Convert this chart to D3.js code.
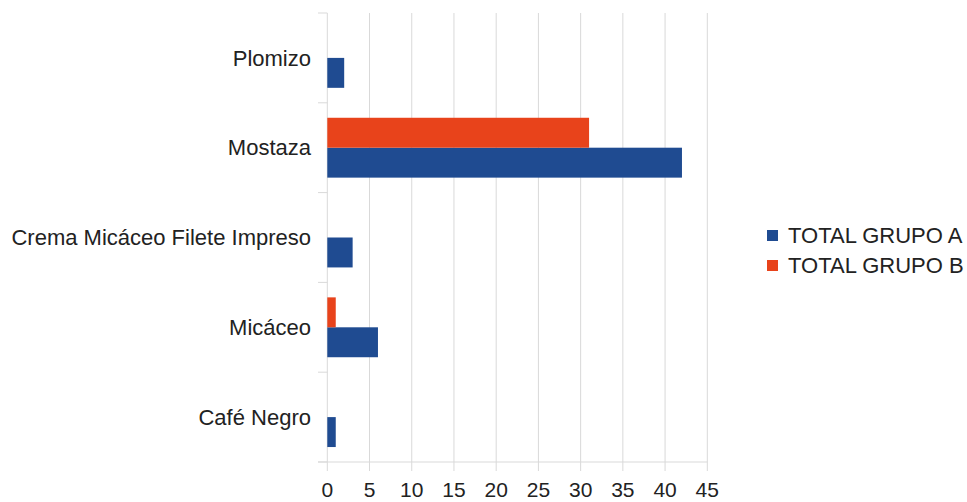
<!DOCTYPE html>
<html><head><meta charset="utf-8">
<script src="https://cdn.jsdelivr.net/npm/d3@7"></script>
<style>body{margin:0;background:#fff}text{font-family:"Liberation Sans",Arial,sans-serif;fill:#222}</style>
</head><body>
<svg id="c" width="967" height="502"></svg>
<script>
const categories = ["Plomizo","Mostaza","Crema Micáceo Filete Impreso","Micáceo","Café Negro"];
const seriesNames = ["TOTAL GRUPO A","TOTAL GRUPO B"];
const grupoA = [2,42,3,6,1];
const grupoB = [0,31,0,1,0];
const xTicks = [0,5,10,15,20,25,30,35,40,45];
const colors = ["#1f4b91","#e8431b"];

const svg = d3.select("#c");
const L = 327.3, R = 707.3, T = 13, B = 462;
const x = d3.scaleLinear().domain([0,45]).range([L,R]);
const y = d3.scaleBand().domain(categories).range([T,B]);
const sub = d3.scaleBand().domain(["B","A"]).range([0,y.bandwidth()]).paddingOuter(0.5).paddingInner(0);

// gridlines
svg.append("g").selectAll("line").data(xTicks).join("line")
  .attr("x1",d=>x(d)).attr("x2",d=>x(d)).attr("y1",T).attr("y2",B+9)
  .attr("stroke","#d9d9d9").attr("stroke-width",1);
// bottom axis line
svg.append("line").attr("x1",318).attr("x2",R).attr("y1",B).attr("y2",B).attr("stroke","#d9d9d9");
// category ticks
const bounds = d3.range(categories.length+1).map(i=>T+i*y.step());
svg.append("g").selectAll("line").data(bounds).join("line")
  .attr("x1",318).attr("x2",L).attr("y1",d=>d).attr("y2",d=>d).attr("stroke","#d9d9d9");

// bars
const rows = categories.map((c,i)=>({c,A:grupoA[i],B:grupoB[i]}));
const g = svg.append("g");
g.selectAll("rect.a").data(rows).join("rect").attr("class","a")
  .attr("x",x(0)).attr("y",d=>y(d.c)+sub("A")).attr("height",sub.bandwidth())
  .attr("width",d=>x(d.A)-x(0)).attr("fill",colors[0]);
g.selectAll("rect.b").data(rows.filter(d=>d.B>0)).join("rect").attr("class","b")
  .attr("x",x(0)).attr("y",d=>y(d.c)+sub("B")).attr("height",sub.bandwidth())
  .attr("width",d=>x(d.B)-x(0)).attr("fill",colors[1]);

// category labels
svg.append("g").selectAll("text").data(categories).join("text")
  .attr("x",311).attr("y",d=>y(d)+y.bandwidth()/2).attr("dy","0.35em")
  .attr("text-anchor","end").attr("font-size",22).text(d=>d);

// x tick labels
svg.append("g").selectAll("text").data(xTicks).join("text")
  .attr("x",d=>x(d)).attr("y",497).attr("dominant-baseline","alphabetic")
  .attr("text-anchor","middle").attr("font-size",21).text(d=>d);

// legend
const lg = svg.append("g").selectAll("g").data(seriesNames).join("g")
  .attr("transform",(d,i)=>`translate(767,${235.5+i*30})`);
lg.append("rect").attr("x",0).attr("y",-5.5).attr("width",11).attr("height",11).attr("fill",(d,i)=>colors[i]);
lg.append("text").attr("x",21).attr("y",0).attr("dy","0.35em").attr("font-size",22).text(d=>d);
</script>
</body></html>
